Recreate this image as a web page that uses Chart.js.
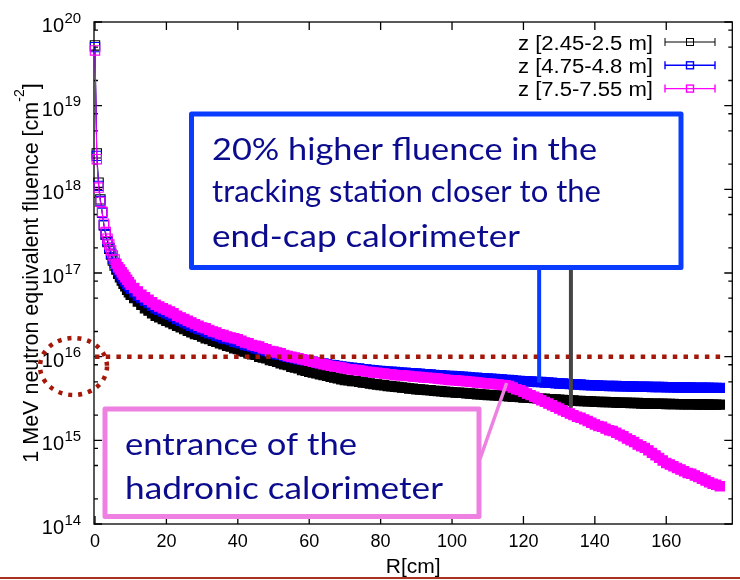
<!DOCTYPE html>
<html>
<head>
<meta charset="utf-8">
<script src="https://cdn.jsdelivr.net/npm/chart.js@4.4.1/dist/chart.umd.min.js"></script>
<style>
html,body{margin:0;padding:0;background:#ffffff;}
#wrap{width:740px;height:580px;}
canvas{display:block;}
</style>
</head>
<body>
<div id="wrap"><canvas id="chart" width="740" height="580"></canvas></div>
<script>
// ---------------- data ----------------
const R = [0,0.5,1,1.5,2,2.5,3,3.5,4,4.5,5,5.5,6,6.5,7,7.5,8,8.5,9,9.5,10,
11,12,13,14,15,16,17,18,19,20,
21,22,23,24,25,26,27,28,29,30,
31,32,33,34,35,36,37,38,39,40,
41,42,43,44,45,46,47,48,49,50,
51,52,53,54,55,56,57,58,59,60,
61,62,63,64,65,66,67,68,69,70,
71,72,73,74,75,76,77,78,79,80,
81,82,83,84,85,86,87,88,89,90,
91,92,93,94,95,96,97,98,99,100,
101,102,103,104,105,106,107,108,109,110,
111,112,113,114,115,116,117,118,119,120,
121,122,123,124,125,126,127,128,129,130,
131,132,133,134,135,136,137,138,139,140,
141,142,143,144,145,146,147,148,149,150,
151,152,153,154,155,156,157,158,159,160,
161,162,163,164,165,166,167,168,169,170,
171,172,173,174,175];

const fluenceZ245 = [5.25e19,2.69e18,1.20e18,7.59e17,5.37e17,3.72e17,2.88e17,2.34e17,1.95e17,1.66e17,
1.41e17,1.23e17,1.10e17,9.77e16,8.91e16,8.13e16,7.41e16,6.92e16,6.31e16,5.89e16,
5.50e16,
5.01e16,4.57e16,4.17e16,3.80e16,3.55e16,3.31e16,3.09e16,2.95e16,2.82e16,2.69e16,
2.57e16,2.45e16,2.34e16,2.24e16,2.14e16,2.04e16,1.95e16,1.86e16,1.82e16,1.74e16,
1.66e16,1.62e16,1.55e16,1.51e16,1.45e16,1.41e16,1.35e16,1.32e16,1.26e16,1.23e16,
1.17e16,1.15e16,1.10e16,1.07e16,1.05e16,1.00e16,9.77e15,9.55e15,9.12e15,8.91e15,
8.71e15,8.32e15,8.13e15,7.94e15,7.59e15,7.41e15,7.24e15,6.92e15,6.76e15,6.61e15,
6.46e15,6.31e15,6.17e15,6.03e15,5.89e15,5.75e15,5.62e15,5.50e15,5.37e15,5.25e15,
5.22e15,5.13e15,5.10e15,5.01e15,4.92e15,4.88e15,4.79e15,4.70e15,4.66e15,4.58e15,
4.55e15,4.47e15,4.44e15,4.37e15,4.34e15,4.27e15,4.24e15,4.17e15,4.15e15,4.08e15,
4.06e15,4.04e15,3.98e15,3.96e15,3.90e15,3.88e15,3.86e15,3.81e15,3.79e15,3.77e15,
3.72e15,3.70e15,3.69e15,3.64e15,3.62e15,3.60e15,3.55e15,3.54e15,3.52e15,3.48e15,
3.47e15,3.45e15,3.43e15,3.40e15,3.38e15,3.37e15,3.32e15,3.31e15,3.29e15,3.25e15,
3.24e15,3.22e15,3.21e15,3.17e15,3.15e15,3.14e15,3.10e15,3.09e15,3.07e15,3.06e15,
3.03e15,3.02e15,3.00e15,2.99e15,2.96e15,2.95e15,2.94e15,2.93e15,2.92e15,2.89e15,
2.88e15,2.87e15,2.87e15,2.86e15,2.85e15,2.83e15,2.82e15,2.81e15,2.81e15,2.80e15,
2.79e15,2.79e15,2.76e15,2.75e15,2.75e15,2.74e15,2.74e15,2.73e15,2.73e15,2.72e15,
2.72e15,2.72e15,2.71e15,2.70e15,2.70e15,2.69e15,2.69e15,2.69e15,2.68e15,2.68e15,
2.68e15,2.68e15,2.67e15,2.67e15,2.67e15];

const fluenceZ475 = [5.01e19,2.51e18,1.10e18,7.24e17,5.25e17,3.72e17,2.88e17,2.40e17,2.00e17,1.70e17,
1.48e17,1.32e17,1.17e17,1.07e17,9.77e16,9.12e16,8.51e16,7.94e16,7.41e16,6.92e16,
6.46e16,
5.89e16,5.37e16,5.01e16,4.68e16,4.37e16,4.07e16,3.80e16,3.63e16,3.47e16,3.31e16,
3.16e16,3.02e16,2.82e16,2.69e16,2.57e16,2.45e16,2.34e16,2.24e16,2.14e16,2.09e16,
2.00e16,1.91e16,1.86e16,1.78e16,1.74e16,1.66e16,1.62e16,1.58e16,1.51e16,1.48e16,
1.45e16,1.38e16,1.35e16,1.32e16,1.26e16,1.23e16,1.20e16,1.17e16,1.12e16,1.10e16,
1.07e16,1.05e16,1.02e16,1.00e16,9.77e15,9.55e15,9.33e15,9.17e15,9.06e15,8.91e15,
8.71e15,8.51e15,8.36e15,8.27e15,8.13e15,7.96e15,7.90e15,7.76e15,7.62e15,7.55e15,
7.43e15,7.38e15,7.26e15,7.21e15,7.10e15,7.04e15,6.94e15,6.89e15,6.79e15,6.74e15,
6.72e15,6.63e15,6.60e15,6.57e15,6.48e15,6.45e15,6.42e15,6.34e15,6.31e15,6.28e15,
6.27e15,6.19e15,6.16e15,6.13e15,6.05e15,6.02e15,5.99e15,5.92e15,5.89e15,5.86e15,
5.85e15,5.78e15,5.75e15,5.72e15,5.65e15,5.62e15,5.59e15,5.52e15,5.50e15,5.47e15,
5.46e15,5.40e15,5.37e15,5.34e15,5.28e15,5.25e15,5.22e15,5.16e15,5.13e15,5.10e15,
5.09e15,5.04e15,5.01e15,4.99e15,4.97e15,4.92e15,4.90e15,4.87e15,4.81e15,4.79e15,
4.77e15,4.75e15,4.70e15,4.68e15,4.66e15,4.64e15,4.59e15,4.57e15,4.56e15,4.54e15,
4.53e15,4.51e15,4.48e15,4.47e15,4.46e15,4.45e15,4.44e15,4.43e15,4.42e15,4.41e15,
4.40e15,4.38e15,4.37e15,4.36e15,4.36e15,4.35e15,4.34e15,4.34e15,4.33e15,4.32e15,
4.32e15,4.30e15,4.29e15,4.28e15,4.28e15,4.27e15,4.27e15,4.26e15,4.26e15,4.25e15,
4.25e15,4.25e15,4.24e15,4.24e15,4.24e15];

const fluenceZ750 = [4.57e19,2.29e18,1.05e18,7.08e17,5.37e17,3.89e17,3.09e17,2.57e17,2.19e17,1.86e17,
1.62e17,1.45e17,1.29e17,1.17e17,1.10e17,1.02e17,9.55e16,8.91e16,8.32e16,7.76e16,
7.24e16,
6.61e16,6.03e16,5.50e16,5.13e16,4.79e16,4.47e16,4.17e16,3.98e16,3.80e16,3.63e16,
3.47e16,3.31e16,3.09e16,2.95e16,2.82e16,2.69e16,2.57e16,2.45e16,2.34e16,2.24e16,
2.19e16,2.09e16,2.00e16,1.95e16,1.86e16,1.82e16,1.74e16,1.70e16,1.66e16,1.62e16,
1.55e16,1.48e16,1.45e16,1.38e16,1.35e16,1.32e16,1.26e16,1.23e16,1.17e16,1.15e16,
1.12e16,1.10e16,1.05e16,1.02e16,1.00e16,9.77e15,9.55e15,9.33e15,9.12e15,8.91e15,
8.71e15,8.51e15,8.32e15,8.13e15,7.94e15,7.76e15,7.62e15,7.55e15,7.41e15,7.24e15,
7.10e15,7.05e15,6.94e15,6.88e15,6.76e15,6.63e15,6.58e15,6.48e15,6.42e15,6.31e15,
6.28e15,6.18e15,6.14e15,6.05e15,6.01e15,5.99e15,5.90e15,5.86e15,5.77e15,5.74e15,
5.72e15,5.64e15,5.61e15,5.58e15,5.51e15,5.47e15,5.39e15,5.35e15,5.27e15,5.24e15,
5.22e15,5.15e15,5.12e15,5.09e15,5.02e15,4.99e15,4.91e15,4.88e15,4.81e15,4.78e15,
4.76e15,4.70e15,4.66e15,4.59e15,4.55e15,4.47e15,4.27e15,4.07e15,3.98e15,3.80e15,
3.63e15,3.47e15,3.31e15,3.16e15,3.02e15,2.88e15,2.75e15,2.63e15,2.51e15,2.40e15,
2.29e15,2.19e15,2.09e15,2.00e15,1.91e15,1.86e15,1.78e15,1.70e15,1.62e15,1.55e15,
1.48e15,1.45e15,1.38e15,1.32e15,1.29e15,1.23e15,1.17e15,1.12e15,1.05e15,1.00e15,
9.55e14,8.91e14,8.51e14,8.13e14,7.59e14,7.08e14,6.61e14,6.17e14,5.75e14,5.37e14,
5.13e14,4.90e14,4.68e14,4.47e14,4.27e14,4.07e14,3.98e14,3.80e14,3.63e14,3.47e14,
3.31e14,3.16e14,3.02e14,2.95e14,2.82e14];

const seriesLabels = ['z [2.45-2.5 m]', 'z [4.75-4.8 m]', 'z [7.5-7.55 m]'];
const xTicks = [0, 20, 40, 60, 80, 100, 120, 140, 160];
const yDecades = [14, 15, 16, 17, 18, 19, 20];
const yMinorMultipliers = [2, 5, 8];
const referenceLevel = 1e16;
const referenceRange = [0, 175.5];
const xTitle = 'R[cm]';
const yTitleMain = '1 MeV neutron equivalent fluence [cm';
const yTitleSup = '-2';
const yTitleEnd = ']';
const noteStation = ['20% higher fluence in the', 'tracking station closer to the', 'end-cap calorimeter'];
const noteCalo = ['entrance of the', 'hadronic calorimeter'];
// annotation anchor points on the curves (R, fluence)
const blueMarker = [124.4, 4.9e15];
const grayMarker = [133.3, 2.45e15];
const pinkMarker = [115.3, 4.85e15];

// ---------------- styling ----------------
const SANS = '"Liberation Sans", Arial, Helvetica, sans-serif';
const NOTE_FONT = 'Lato, "Open Sans", "Noto Sans", sans-serif';
const COLORS = ['#000000', '#0000ff', '#ff00ff'];
const RED = '#a4180a';
const BOX_BLUE = '#0a3cff';
const BOX_PINK = '#ee80e2';
const NAVY = '#0b0b8e';

function toPoints(values) { return R.map((r, i) => ({ x: r, y: values[i] })); }

function seriesStyle(color) {
  return {
    borderColor: color,
    borderWidth: 1,
    tension: 0,
    fill: false,
    pointStyle: 'rect',
    pointRadius: 6.6,
    pointHoverRadius: 6.6,
    pointBorderColor: color,
    pointBorderWidth: 1.1,
    pointBackgroundColor: (c) => (c.raw && c.raw.x < 6) ? 'rgba(255,255,255,0)' : color,
    clip: false
  };
}

function fitLine(ctx, text, x, y, size, family, targetW) {
  ctx.font = size + 'px ' + family;
  const w = ctx.measureText(text).width;
  const s = targetW / w;
  ctx.save();
  ctx.translate(x, y);
  ctx.scale(s, 1);
  ctx.fillText(text, 0, 0);
  ctx.restore();
}

const decor = {
  id: 'decor',
  beforeDatasetsDraw(chart) {
    const { ctx, chartArea: a, scales } = chart;
    const xs = scales.x, ys = scales.y;
    ctx.save();
    ctx.strokeStyle = '#000';
    ctx.lineWidth = 1.3;
    ctx.strokeRect(a.left, a.top, a.right - a.left, a.bottom - a.top);
    ctx.beginPath();
    xTicks.forEach(v => {
      const p = xs.getPixelForValue(v);
      ctx.moveTo(p, a.bottom); ctx.lineTo(p, a.bottom - 8);
      ctx.moveTo(p, a.top); ctx.lineTo(p, a.top + 8);
    });
    yDecades.forEach((d, i) => {
      const p = ys.getPixelForValue(Math.pow(10, d));
      ctx.moveTo(a.left, p); ctx.lineTo(a.left + 8, p);
      ctx.moveTo(a.right, p); ctx.lineTo(a.right - 8, p);
      if (i < yDecades.length - 1) {
        yMinorMultipliers.forEach(m => {
          const q = ys.getPixelForValue(m * Math.pow(10, d));
          ctx.moveTo(a.left, q); ctx.lineTo(a.left + 4, q);
          ctx.moveTo(a.right, q); ctx.lineTo(a.right - 4, q);
        });
      }
    });
    ctx.stroke();
    ctx.restore();
  },
  afterDraw(chart) {
    const { ctx, chartArea: a, scales } = chart;
    const xs = scales.x, ys = scales.y;
    ctx.save();
    ctx.fillStyle = '#000';

    // y tick labels 10^n
    yDecades.forEach(d => {
      const p = ys.getPixelForValue(Math.pow(10, d));
      ctx.textBaseline = 'alphabetic';
      ctx.font = '20px ' + SANS;
      ctx.textAlign = 'right';
      ctx.fillText('10', 64, p + 10);
      ctx.font = '15px ' + SANS;
      ctx.textAlign = 'left';
      ctx.fillText(String(d), 64.5, p + 0.5);
    });

    // y title (rotated, with superscript)
    ctx.save();
    ctx.translate(37.5, (a.top + a.bottom) / 2);
    ctx.rotate(-Math.PI / 2);
    ctx.textAlign = 'left';
    ctx.textBaseline = 'alphabetic';
    ctx.font = '21.5px ' + SANS;
    const w1 = ctx.measureText(yTitleMain).width;
    const w3 = ctx.measureText(yTitleEnd).width;
    ctx.font = '14px ' + SANS;
    const w2 = ctx.measureText(yTitleSup).width;
    let tx = -(w1 + w2 + w3) / 2;
    ctx.font = '21.5px ' + SANS;
    ctx.fillText(yTitleMain, tx, 0);
    tx += w1;
    ctx.font = '14px ' + SANS;
    ctx.fillText(yTitleSup, tx, -14);
    tx += w2;
    ctx.font = '21.5px ' + SANS;
    ctx.fillText(yTitleEnd, tx, 0);
    ctx.restore();

    // legend (text right-aligned, sample with error-bar caps)
    [0, 1, 2].forEach((k, i) => {
      const y = 42 + i * 23.3;
      ctx.fillStyle = '#000';
      ctx.textAlign = 'left';
      ctx.textBaseline = 'alphabetic';
      fitLine(ctx, seriesLabels[k], 518, y + 7.5, 20, SANS, 135);
      ctx.strokeStyle = COLORS[k];
      ctx.lineWidth = k === 0 ? 1 : 1.4;
      ctx.beginPath();
      ctx.moveTo(665, y); ctx.lineTo(715, y);
      ctx.moveTo(665, y - 4); ctx.lineTo(665, y + 4);
      ctx.moveTo(715, y - 4); ctx.lineTo(715, y + 4);
      ctx.stroke();
      ctx.strokeRect(686.5, y - 3.5, 7, 7);
    });

    // dotted ellipse around the 10^16 label
    ctx.save();
    ctx.strokeStyle = RED;
    ctx.lineWidth = 4.5;
    ctx.setLineDash([4, 6]);
    ctx.beginPath();
    ctx.ellipse(73.5, 366.5, 33.5, 28.5, 0, 0, Math.PI * 2);
    ctx.stroke();
    ctx.restore();

    // connectors from the blue note box
    const bx = xs.getPixelForValue(blueMarker[0]);
    const by = ys.getPixelForValue(blueMarker[1]);
    const gx = xs.getPixelForValue(grayMarker[0]);
    const gy = ys.getPixelForValue(grayMarker[1]);
    ctx.lineCap = 'butt';
    ctx.strokeStyle = BOX_BLUE; ctx.lineWidth = 4;
    ctx.beginPath(); ctx.moveTo(bx, 268); ctx.lineTo(bx, by); ctx.stroke();
    ctx.strokeStyle = '#454545'; ctx.lineWidth = 4;
    ctx.beginPath(); ctx.moveTo(gx, 268); ctx.lineTo(gx, gy); ctx.stroke();

    // blue note box
    ctx.lineJoin = 'round';
    ctx.fillStyle = '#fff';
    ctx.fillRect(191.5, 114, 489.5, 153.5);
    ctx.strokeStyle = BOX_BLUE; ctx.lineWidth = 5;
    ctx.strokeRect(191.5, 114, 489.5, 153.5);
    ctx.fillStyle = NAVY;
    ctx.textAlign = 'left';
    ctx.textBaseline = 'alphabetic';
    const stationW = [385, 389, 308];
    [160, 202, 246.5].forEach((yy, i) => fitLine(ctx, noteStation[i], 212, yy, 30, NOTE_FONT, stationW[i]));

    // pink note box and connector
    const px = xs.getPixelForValue(pinkMarker[0]);
    const py = ys.getPixelForValue(pinkMarker[1]);
    ctx.strokeStyle = BOX_PINK; ctx.lineWidth = 3.5;
    ctx.beginPath(); ctx.moveTo(480, 459); ctx.lineTo(px, py); ctx.stroke();
    ctx.fillStyle = '#fff';
    ctx.fillRect(105, 409, 374, 107.5);
    ctx.strokeStyle = BOX_PINK; ctx.lineWidth = 5;
    ctx.strokeRect(105, 409, 374, 107.5);
    ctx.fillStyle = NAVY;
    fitLine(ctx, noteCalo[0], 125, 455, 30, NOTE_FONT, 232);
    fitLine(ctx, noteCalo[1], 125, 498.5, 30, NOTE_FONT, 318);

    // bottom rule of the slide
    ctx.fillStyle = '#a83220';
    ctx.fillRect(0, 577, 740, 2);
    ctx.restore();
  }
};

let built = false;
function build() {
  if (built) return;
  built = true;
  Chart.defaults.font.family = SANS;
  Chart.defaults.color = '#000';
  new Chart(document.getElementById('chart'), {
    type: 'line',
    data: {
      datasets: [
        Object.assign({ label: seriesLabels[0], data: toPoints(fluenceZ245), order: 3 }, seriesStyle(COLORS[0])),
        Object.assign({ label: seriesLabels[1], data: toPoints(fluenceZ475), order: 2 }, seriesStyle(COLORS[1])),
        Object.assign({ label: seriesLabels[2], data: toPoints(fluenceZ750), order: 1 }, seriesStyle(COLORS[2])),
        {
          label: '1e16 reference',
          data: referenceRange.map(r => ({ x: r, y: referenceLevel })),
          borderColor: RED, borderWidth: 4.5, borderDash: [4.5, 6.2],
          pointRadius: 0, pointHoverRadius: 0, fill: false, order: 0, clip: false
        }
      ]
    },
    options: {
      responsive: false,
      animation: false,
      devicePixelRatio: 1,
      layout: { padding: { left: 0, right: 4, top: 22, bottom: 0 } },
      plugins: { legend: { display: false }, tooltip: { enabled: false } },
      events: [],
      scales: {
        x: {
          type: 'linear', min: -0.28, max: 178.5,
          afterBuildTicks: s => { s.ticks = xTicks.map(v => ({ value: v })); },
          afterFit: s => { s.height = 56; },
          grid: { display: false, drawTicks: false },
          border: { display: false },
          ticks: { font: { size: 18 }, color: '#000', padding: 7, maxRotation: 0, autoSkip: false, callback: v => String(v) },
          title: { display: true, text: xTitle, font: { size: 21 }, color: '#000', padding: { top: 0, bottom: 0 } }
        },
        y: {
          type: 'logarithmic', min: 1e14, max: 1e20,
          afterBuildTicks: s => { s.ticks = yDecades.map(d => ({ value: Math.pow(10, d) })); },
          afterFit: s => { s.width = 94; },
          grid: { display: false, drawTicks: false },
          border: { display: false },
          ticks: { display: false }
        }
      }
    },
    plugins: [decor]
  });
}
if (document.fonts && document.fonts.load) {
  Promise.all([document.fonts.load('30px Lato'), document.fonts.load('21px "Liberation Sans"')]).then(build, build);
  setTimeout(build, 400);
} else {
  build();
}
</script>
</body>
</html>
